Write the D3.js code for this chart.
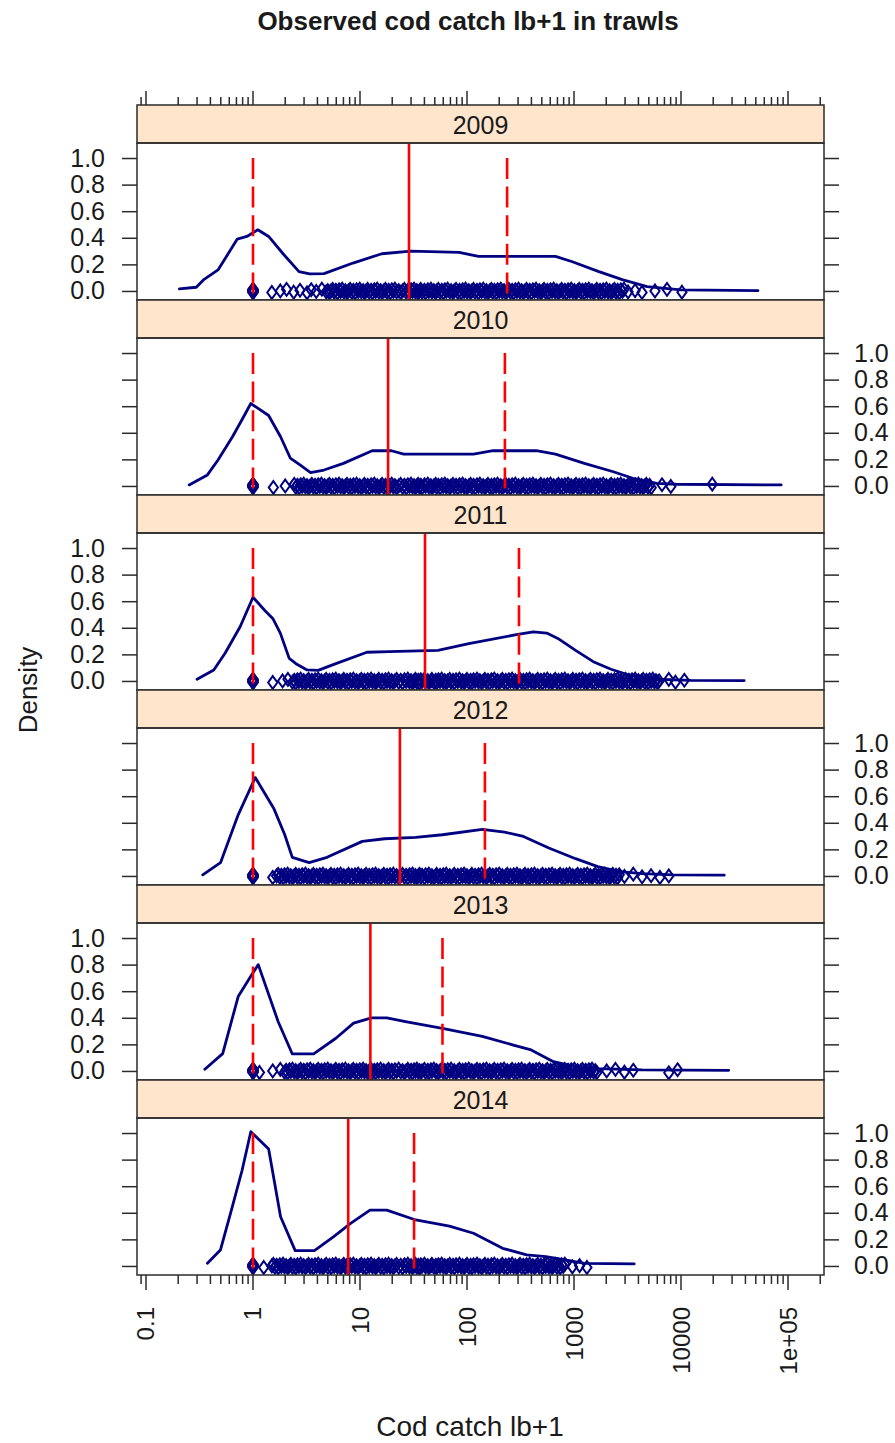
<!DOCTYPE html>
<html>
<head>
<meta charset="utf-8">
<script src="https://cdn.jsdelivr.net/npm/d3@7"></script>
<style>
  body { margin: 0; background: #fff; }
  text { font-family: "Liberation Sans", Arial, Helvetica, sans-serif; fill: #1a1a1a; }
</style>
</head>
<body>
<svg id="chart" width="895" height="1443"></svg>
<script>
// ---- data -------------------------------------------------------------
const years = ["2009", "2010", "2011", "2012", "2013", "2014"];
const yTickValues = [0, 0.2, 0.4, 0.6, 0.8, 1.0];
const xTickValues = [0.1, 1, 10, 100, 1000, 10000, 100000];
const xTickLabels = ["0.1", "1", "10", "100", "1000", "10000", "1e+05"];

// kernel density of log catch, as [catch lb+1, density]
const dens2009 = [[0.205,0.015],[0.295,0.028],[0.344,0.083],[0.471,0.158],[0.713,0.39],[0.877,0.41],[1.11,0.46],[1.40,0.41],[1.91,0.28],[2.69,0.145],[3.38,0.128],[4.61,0.13],[8.6,0.21],[16.0,0.28],[29.9,0.30],[84.4,0.29],[128,0.26],[671,0.26],[966,0.22],[1709,0.145],[2870,0.083],[4820,0.032],[9980,0.008],[52400,0.002]];
const dens2010 = [[0.253,0.008],[0.375,0.083],[0.471,0.195],[0.643,0.37],[0.791,0.50],[0.954,0.62],[1.40,0.53],[1.81,0.37],[2.23,0.21],[2.75,0.158],[3.45,0.10],[4.61,0.12],[7.0,0.17],[13.0,0.265],[19.7,0.265],[25.6,0.24],[115,0.24],[175,0.265],[444,0.265],[671,0.24],[1250,0.17],[2330,0.107],[3540,0.058],[5940,0.02],[8980,0.013],[86300,0.008]];
const dens2011 = [[0.30,0.013],[0.43,0.083],[0.55,0.21],[0.76,0.41],[1.0,0.63],[1.29,0.53],[1.53,0.47],[1.80,0.36],[2.18,0.17],[2.52,0.13],[3.2,0.083],[4.06,0.08],[5.95,0.13],[11.6,0.216],[18.7,0.22],[53.5,0.23],[104,0.28],[298,0.35],[417,0.37],[556,0.36],[706,0.32],[1035,0.23],[1514,0.145],[2218,0.088],[3250,0.045],[5766,0.013],[12380,0.005],[38940,0.003]];
const dens2012 = [[0.339,0.008],[0.497,0.10],[0.727,0.46],[1.05,0.74],[1.56,0.51],[1.98,0.31],[2.33,0.14],[3.35,0.10],[4.92,0.14],[10.5,0.26],[17.0,0.28],[33.2,0.29],[58.9,0.31],[139,0.35],[224,0.33],[329,0.30],[582,0.21],[1035,0.13],[1667,0.07],[2690,0.032],[4330,0.017],[8450,0.008],[25350,0.006]];
const dens2013 = [[0.355,0.013],[0.521,0.13],[0.727,0.56],[0.950,0.71],[1.12,0.80],[1.72,0.37],[2.33,0.128],[3.69,0.128],[5.95,0.246],[8.71,0.36],[12.8,0.40],[17.8,0.40],[27.4,0.37],[58.9,0.32],[139,0.26],[271,0.195],[398,0.158],[642,0.07],[1035,0.032],[1667,0.017],[4330,0.008],[27900,0.005]];
const dens2014 = [[0.375,0.02],[0.496,0.12],[0.643,0.45],[0.791,0.72],[0.954,1.01],[1.40,0.88],[1.81,0.37],[2.48,0.115],[3.75,0.115],[5.68,0.22],[8.17,0.32],[12.4,0.42],[17.8,0.42],[33.2,0.346],[68.5,0.30],[115,0.246],[215,0.133],[361,0.083],[546,0.07],[828,0.045],[1250,0.02],[3650,0.015]];

// observed catches (lb+1), one entry per tow
const obs2009 = [1,1,1,1,1,1,1,1,1,1,1.5,1.8,2.06,2.4,2.75,3.2,3.5,3.9,4.4,
  4.83,5.0,5.18,5.36,5.55,5.74,5.94,6.15,6.37,6.59,6.82,7.06,7.3,7.56,7.82,8.1,8.38,8.67,8.98,9.29,9.62,9.95,10.3,10.7,11.0,11.4,11.8,12.2,12.7,13.1,13.6,14.0,14.5,15.0,15.6,16.1,16.7,17.3,17.9,18.5,19.1,19.8,20.5,21.2,22,23,24,25,26,27,28,29,30,31,32,33,34,35,36,37,38,40,41,43,44,46,47,49,51,52,54,56,58,60,62,64,66,69,71,74,76,79,82,85,88,91,94,97,100,104,108,111,115,119,124,128,132,137,142,147,152,157,163,169,174,180,187,193,200,207,214,222,230,238,246,255,264,273,283,293,303,313,324,336,348,360,372,385,399,413,427,442,458,474,490,508,525,544,563,582,603,624,646,668,692,716,741,767,793,821,
  850,880,911,942,975,1009,1045,1081,1119,1158,1199,1241,1284,1329,1376,1424,1474,1525,1579,1634,1691,1750,1812,1875,1941,2009,2079,2152,2227,2305,2386,2469,2556,2645,2738,2834,2933,
  3200,3720,4320,5710,7400,10200];
const obs2010 = [1,1,1,1,1,1,1,1,1,1,1.55,2.0,
  2.43,2.51,2.6,2.69,2.79,2.88,2.98,3.09,3.2,3.31,3.43,3.55,3.67,3.8,3.93,4.07,4.21,4.36,4.51,4.67,
  4.83,5.0,5.18,5.36,5.55,5.74,5.94,6.15,6.37,6.59,6.82,7.06,7.3,7.56,7.82,8.1,8.38,8.67,8.98,9.29,9.62,9.95,10.3,10.7,11.0,11.4,11.8,12.2,12.7,13.1,13.6,14.0,14.5,15.0,15.6,16.1,16.7,17.3,17.9,18.5,19.1,19.8,20.5,21.2,22,23,24,25,26,27,28,29,30,31,32,33,34,35,36,37,38,40,41,43,44,46,47,49,51,52,54,56,58,60,62,64,66,69,71,74,76,79,82,85,88,91,94,97,100,104,108,111,115,119,124,128,132,137,142,147,152,157,163,169,174,180,187,193,200,207,214,222,230,238,246,255,264,273,283,293,303,313,324,336,348,360,372,385,399,413,427,442,458,474,490,508,525,544,563,582,603,624,646,668,692,716,741,767,793,821,
  850,880,911,942,975,1009,1045,1081,1119,1158,1199,1241,1284,1329,1376,1424,1474,1525,1579,1634,1691,1750,1812,1875,1941,2009,2079,2152,2227,2305,2386,2469,2556,2645,2738,2834,2933,
  3036,3142,3252,3366,3483,3605,3731,3862,3997,4137,4282,4432,4587,4747,4913,5085,5263,
  6640,8030,19600];
const obs2011 = [1,1,1,1,1,1,1,1,1,1,1.53,1.89,2.12,2.34,
  2.43,2.51,2.6,2.69,2.79,2.88,2.98,3.09,3.2,3.31,3.43,3.55,3.67,3.8,3.93,4.07,4.21,4.36,4.51,4.67,
  4.83,5.0,5.18,5.36,5.55,5.74,5.94,6.15,6.37,6.59,6.82,7.06,7.3,7.56,7.82,8.1,8.38,8.67,8.98,9.29,9.62,9.95,10.3,10.7,11.0,11.4,11.8,12.2,12.7,13.1,13.6,14.0,14.5,15.0,15.6,16.1,16.7,17.3,17.9,18.5,19.1,19.8,20.5,21.2,22,23,24,25,26,27,28,29,30,31,32,33,34,35,36,37,38,40,41,43,44,46,47,49,51,52,54,56,58,60,62,64,66,69,71,74,76,79,82,85,88,91,94,97,100,104,108,111,115,119,124,128,132,137,142,147,152,157,163,169,174,180,187,193,200,207,214,222,230,238,246,255,264,273,283,293,303,313,324,336,348,360,372,385,399,413,427,442,458,474,490,508,525,544,563,582,603,624,646,668,692,716,741,767,793,821,
  850,880,911,942,975,1009,1045,1081,1119,1158,1199,1241,1284,1329,1376,1424,1474,1525,1579,1634,1691,1750,1812,1875,1941,2009,2079,2152,2227,2305,2386,2469,2556,2645,2738,2834,2933,
  3036,3142,3252,3366,3483,3605,3731,3862,3997,4137,4282,4432,4587,4747,4913,5085,5263,5448,5638,5836,6040,6251,
  7690,8870,10740];
const obs2012 = [1,1,1,1,1,1,1,1,1,1,1.53,
  1.66,1.72,1.78,1.84,1.91,1.97,2.04,2.11,2.19,2.26,2.34,
  2.43,2.51,2.6,2.69,2.79,2.88,2.98,3.09,3.2,3.31,3.43,3.55,3.67,3.8,3.93,4.07,4.21,4.36,4.51,4.67,
  4.83,5.0,5.18,5.36,5.55,5.74,5.94,6.15,6.37,6.59,6.82,7.06,7.3,7.56,7.82,8.1,8.38,8.67,8.98,9.29,9.62,9.95,10.3,10.7,11.0,11.4,11.8,12.2,12.7,13.1,13.6,14.0,14.5,15.0,15.6,16.1,16.7,17.3,17.9,18.5,19.1,19.8,20.5,21.2,22,23,24,25,26,27,28,29,30,31,32,33,34,35,36,37,38,40,41,43,44,46,47,49,51,52,54,56,58,60,62,64,66,69,71,74,76,79,82,85,88,91,94,97,100,104,108,111,115,119,124,128,132,137,142,147,152,157,163,169,174,180,187,193,200,207,214,222,230,238,246,255,264,273,283,293,303,313,324,336,348,360,372,385,399,413,427,442,458,474,490,508,525,544,563,582,603,624,646,668,692,716,741,767,793,821,
  850,880,911,942,975,1009,1045,1081,1119,1158,1199,1241,1284,1329,1376,1424,1474,1525,1579,1634,1691,1750,1812,1875,1941,2009,2079,2152,2227,2305,2386,2469,2556,2645,
  2960,3580,4330,5250,6350,7690];
const obs2013 = [1,1,1,1,1,1,1,1,1,1,1.15,1.53,1.8,
  1.97,2.04,2.11,2.19,2.26,2.34,
  2.43,2.51,2.6,2.69,2.79,2.88,2.98,3.09,3.2,3.31,3.43,3.55,3.67,3.8,3.93,4.07,4.21,4.36,4.51,4.67,
  4.83,5.0,5.18,5.36,5.55,5.74,5.94,6.15,6.37,6.59,6.82,7.06,7.3,7.56,7.82,8.1,8.38,8.67,8.98,9.29,9.62,9.95,10.3,10.7,11.0,11.4,11.8,12.2,12.7,13.1,13.6,14.0,14.5,15.0,15.6,16.1,16.7,17.3,17.9,18.5,19.1,19.8,20.5,21.2,22,23,24,25,26,27,28,29,30,31,32,33,34,35,36,37,38,40,41,43,44,46,47,49,51,52,54,56,58,60,62,64,66,69,71,74,76,79,82,85,88,91,94,97,100,104,108,111,115,119,124,128,132,137,142,147,152,157,163,169,174,180,187,193,200,207,214,222,230,238,246,255,264,273,283,293,303,313,324,336,348,360,372,385,399,413,427,442,458,474,490,508,525,544,563,582,603,624,646,668,692,716,741,767,793,821,
  850,880,911,942,975,1009,1045,1081,1119,1158,1199,1241,1284,1329,1376,1424,1474,1525,1579,1634,
  2020,2440,2960,3580,7690,9290];
const obs2014 = [1,1,1,1,1,1,1,1,1,1,1.26,
  1.5,1.55,1.6,1.66,1.72,1.78,1.84,1.91,1.97,2.04,2.11,2.19,2.26,2.34,
  2.43,2.51,2.6,2.69,2.79,2.88,2.98,3.09,3.2,3.31,3.43,3.55,3.67,3.8,3.93,4.07,4.21,4.36,4.51,4.67,
  4.83,5.0,5.18,5.36,5.55,5.74,5.94,6.15,6.37,6.59,6.82,7.06,7.3,7.56,7.82,8.1,8.38,8.67,8.98,9.29,9.62,9.95,10.3,10.7,11.0,11.4,11.8,12.2,12.7,13.1,13.6,14.0,14.5,15.0,15.6,16.1,16.7,17.3,17.9,18.5,19.1,19.8,20.5,21.2,22,23,24,25,26,27,28,29,30,31,32,33,34,35,36,37,38,40,41,43,44,46,47,49,51,52,54,56,58,60,62,64,66,69,71,74,76,79,82,85,88,91,94,97,100,104,108,111,115,119,124,128,132,137,142,147,152,157,163,169,174,180,187,193,200,207,214,222,230,238,246,255,264,273,283,293,303,313,324,336,348,360,372,385,399,413,427,442,458,474,490,508,525,544,563,582,603,624,646,668,692,716,741,767,793,821,
  966,1128,1320];

// reference lines: median (solid) and quartiles (dashed)
const medians = [28.7, 18.3, 40.5, 23.6, 12.5, 7.76];
const lowerQuartiles = [1, 1, 1, 1, 1, 1];
const upperQuartiles = [237, 226, 306, 147, 59, 32];

const densities = [dens2009, dens2010, dens2011, dens2012, dens2013, dens2014];
const observations = [obs2009, obs2010, obs2011, obs2012, obs2013, obs2014];

// ---- layout -----------------------------------------------------------
const left = 137, right = 824;
const firstRowTop = 105, rowStep = 195, stripH = 38, panelH = 157;
const navy = "#000080", red = "#ff0000", frame = "#2b2b2b", stripFill = "#ffe5cc";

const svg = d3.select("#chart");

const x = d3.scaleLog().domain([0.0824, 216900]).range([left, right]);

// log-axis tick positions: decades (major) and 2..9 multiples (minor)
const majorTicks = [], minorTicks = [];
for (let e = -2; e <= 6; e++) {
  for (let m = 1; m <= 9; m++) {
    const v = m * Math.pow(10, e);
    if (v < x.domain()[0] || v > x.domain()[1]) continue;
    (m === 1 ? majorTicks : minorTicks).push(v);
  }
}

// small deterministic vertical spread for overlapping points
const spread = [0, -1.6, 1.2, -0.7, 1.8, -1.2, 0.5, -1.8, 0.9, -0.3, 1.5];

// open diamond marker (half-width, half-height)
const diamond = (rx, ry) => {
  const p = d3.path();
  p.moveTo(0, -ry); p.lineTo(rx, 0); p.lineTo(0, ry); p.lineTo(-rx, 0); p.closePath();
  return p.toString();
};
const diamondPath = diamond(4.6, 6.4);

years.forEach((yr, i) => {
  const sTop = firstRowTop + i * rowStep;
  const pTop = sTop + stripH;
  const pBot = pTop + panelH;
  const y = d3.scaleLinear().domain([-0.068, 1.113]).range([pBot, pTop]);

  const g = svg.append("g");

  // strip
  g.append("rect").attr("x", left).attr("y", sTop).attr("width", right - left).attr("height", stripH)
    .attr("fill", stripFill).attr("stroke", frame).attr("stroke-width", 1.5);
  g.append("text").attr("x", (left + right) / 2).attr("y", sTop + stripH / 2 + 1)
    .attr("text-anchor", "middle").attr("dominant-baseline", "central")
    .attr("font-size", 25).text(yr);

  // clip to panel
  const clipId = "clip" + yr;
  svg.append("clipPath").attr("id", clipId).append("rect")
    .attr("x", left).attr("y", pTop).attr("width", right - left).attr("height", panelH);
  const inner = g.append("g").attr("clip-path", `url(#${clipId})`);

  // density curve
  const line = d3.line().x(d => x(d[0])).y(d => y(d[1]));
  inner.append("path").datum(densities[i]).attr("d", line)
    .attr("fill", "none").attr("stroke", navy).attr("stroke-width", 2.8)
    .attr("stroke-linejoin", "round").attr("stroke-linecap", "round");

  // observations along the zero line
  inner.selectAll("path.pt").data(observations[i]).enter().append("path")
    .attr("class", "pt").attr("d", diamondPath)
    .attr("transform", (d, k) => `translate(${x(d)},${y(0) + spread[k % spread.length]})`)
    .attr("fill", "none").attr("stroke", navy).attr("stroke-width", 2);

  // median and quartiles
  inner.append("line").attr("x1", x(medians[i])).attr("x2", x(medians[i]))
    .attr("y1", pTop).attr("y2", pBot).attr("stroke", red).attr("stroke-width", 2.6);
  [lowerQuartiles[i], upperQuartiles[i]].forEach(q => {
    inner.append("line").attr("x1", x(q)).attr("x2", x(q))
      .attr("y1", y(1)).attr("y2", pBot).attr("stroke", red).attr("stroke-width", 2.6)
      .attr("stroke-dasharray", "21,7.6");
  });

  // panel frame
  g.append("rect").attr("x", left).attr("y", pTop).attr("width", right - left).attr("height", panelH)
    .attr("fill", "none").attr("stroke", frame).attr("stroke-width", 1.5);

  // y axes: ticks on both sides, labels alternate left / right
  const labelsLeft = (i % 2 === 0);
  const axL = d3.axisLeft(y).tickValues(yTickValues).tickSize(15).tickPadding(17)
    .tickFormat(labelsLeft ? d3.format(".1f") : () => "");
  const axR = d3.axisRight(y).tickValues(yTickValues).tickSize(15).tickPadding(15)
    .tickFormat(labelsLeft ? () => "" : d3.format(".1f"));
  [[axL, left], [axR, right]].forEach(([ax, px]) => {
    const a = g.append("g").attr("transform", `translate(${px},0)`).call(ax);
    a.select(".domain").remove();
    a.selectAll("line").attr("stroke", frame).attr("stroke-width", 1.5);
    a.selectAll("text").attr("font-size", 25).attr("font-family", null).attr("fill", "#1a1a1a");
  });
});

// top axis (ticks only) above the first strip
const topAxisY = firstRowTop;
const bottomAxisY = firstRowTop + 5 * rowStep + stripH + panelH;
const tickG = svg.append("g").attr("stroke", frame).attr("stroke-width", 1.5);
majorTicks.forEach(v => {
  tickG.append("line").attr("x1", x(v)).attr("x2", x(v)).attr("y1", topAxisY).attr("y2", topAxisY - 14);
  tickG.append("line").attr("x1", x(v)).attr("x2", x(v)).attr("y1", bottomAxisY).attr("y2", bottomAxisY + 15);
});
minorTicks.forEach(v => {
  tickG.append("line").attr("x1", x(v)).attr("x2", x(v)).attr("y1", topAxisY).attr("y2", topAxisY - 8);
  tickG.append("line").attr("x1", x(v)).attr("x2", x(v)).attr("y1", bottomAxisY).attr("y2", bottomAxisY + 9);
});

// bottom tick labels, rotated
xTickValues.forEach((v, k) => {
  svg.append("text")
    .attr("transform", `translate(${x(v)},${bottomAxisY + 32}) rotate(-90)`)
    .attr("text-anchor", "end").attr("dominant-baseline", "central")
    .attr("font-size", 24).text(xTickLabels[k]);
});

// titles
svg.append("text").attr("x", 468).attr("y", 30).attr("text-anchor", "middle")
  .attr("font-size", 26).attr("font-weight", "bold").text("Observed cod catch lb+1 in trawls");
svg.append("text").attr("transform", `translate(37,${(firstRowTop + bottomAxisY) / 2}) rotate(-90)`)
  .attr("text-anchor", "middle").attr("font-size", 26).text("Density");
svg.append("text").attr("x", 470).attr("y", 1436).attr("text-anchor", "middle")
  .attr("font-size", 28).text("Cod catch lb+1");
</script>
</body>
</html>
